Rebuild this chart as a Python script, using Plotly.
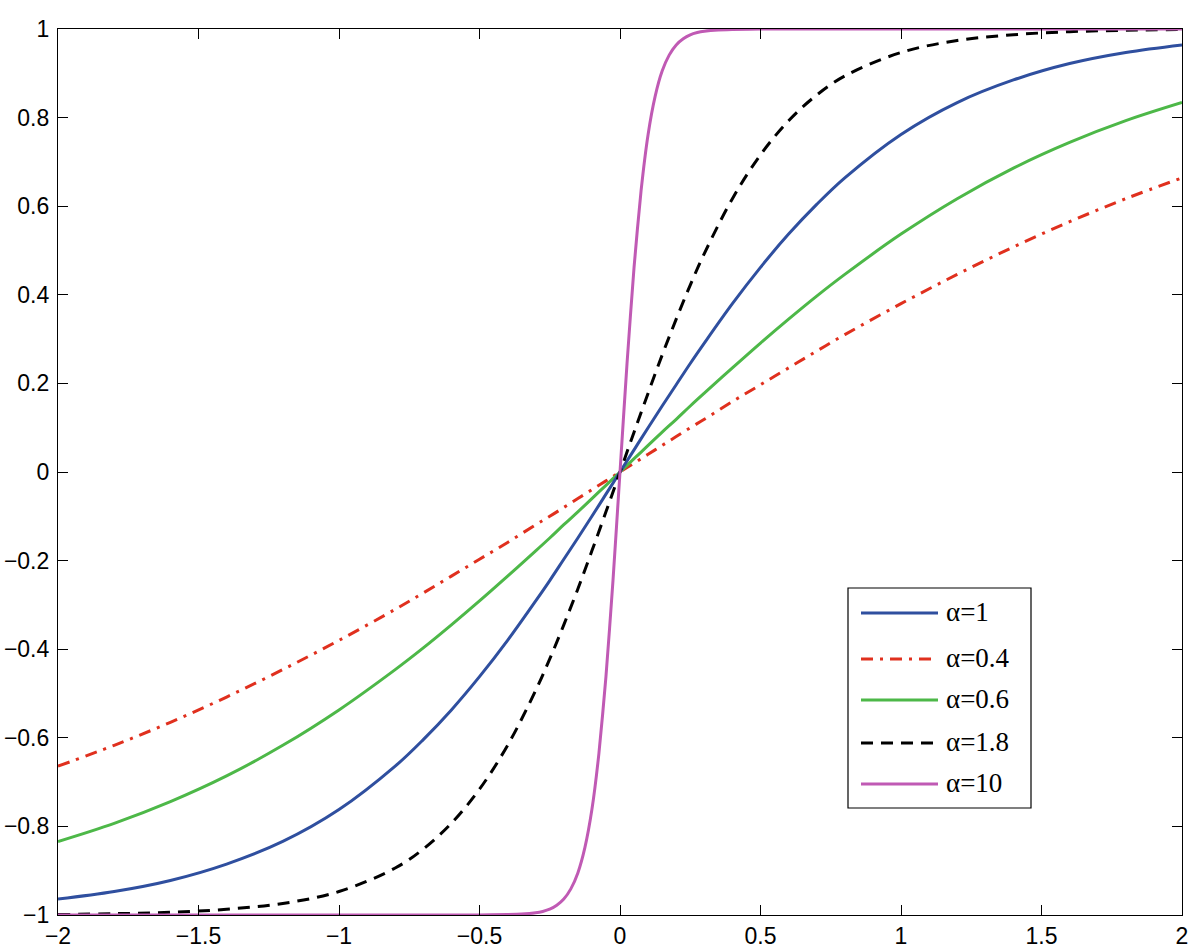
import plotly.graph_objects as go

# x samples (common grid)
x_main = [-2.0, -1.8, -1.6, -1.4, -1.2, -1.0, -0.8, -0.7, -0.6, -0.5, -0.4, -0.3, -0.25, -0.2, -0.15, -0.1, -0.05,
          0.0, 0.05, 0.1, 0.15, 0.2, 0.25, 0.3, 0.4, 0.5, 0.6, 0.7, 0.8, 1.0, 1.2, 1.4, 1.6, 1.8, 2.0]

y_a1 = [-0.964, -0.947, -0.922, -0.885, -0.834, -0.762, -0.664, -0.604, -0.537, -0.462, -0.380, -0.291, -0.245, -0.197, -0.149, -0.100, -0.050,
        0.0, 0.050, 0.100, 0.149, 0.197, 0.245, 0.291, 0.380, 0.462, 0.537, 0.604, 0.664, 0.762, 0.834, 0.885, 0.922, 0.947, 0.964]

y_a04 = [-0.664, -0.617, -0.565, -0.508, -0.446, -0.380, -0.310, -0.273, -0.235, -0.197, -0.159, -0.119, -0.100, -0.080, -0.060, -0.040, -0.020,
         0.0, 0.020, 0.040, 0.060, 0.080, 0.100, 0.119, 0.159, 0.197, 0.235, 0.273, 0.310, 0.380, 0.446, 0.508, 0.565, 0.617, 0.664]

y_a06 = [-0.834, -0.793, -0.744, -0.686, -0.617, -0.537, -0.446, -0.397, -0.345, -0.291, -0.235, -0.178, -0.149, -0.119, -0.090, -0.060, -0.030,
         0.0, 0.030, 0.060, 0.090, 0.119, 0.149, 0.178, 0.235, 0.291, 0.345, 0.397, 0.446, 0.537, 0.617, 0.686, 0.744, 0.793, 0.834]

y_a18 = [-0.999, -0.997, -0.994, -0.987, -0.974, -0.947, -0.894, -0.851, -0.793, -0.716, -0.617, -0.493, -0.422, -0.345, -0.264, -0.178, -0.090,
         0.0, 0.090, 0.178, 0.264, 0.345, 0.422, 0.493, 0.617, 0.716, 0.793, 0.851, 0.894, 0.947, 0.974, 0.987, 0.994, 0.997, 0.999]

# steep curve gets a finer grid
x_a10 = [-2.0, -0.5, -0.4, -0.35, -0.3, -0.275, -0.25, -0.225, -0.2, -0.175, -0.15, -0.125, -0.1, -0.075, -0.05, -0.025,
         0.0, 0.025, 0.05, 0.075, 0.1, 0.125, 0.15, 0.175, 0.2, 0.225, 0.25, 0.275, 0.3, 0.35, 0.4, 0.5, 2.0]
y_a10 = [-1.0, -1.0, -0.999, -0.998, -0.995, -0.992, -0.987, -0.978, -0.964, -0.941, -0.905, -0.848, -0.762, -0.635, -0.462, -0.245,
         0.0, 0.245, 0.462, 0.635, 0.762, 0.848, 0.905, 0.941, 0.964, 0.978, 0.987, 0.992, 0.995, 0.998, 0.999, 1.0, 1.0]

x_ticks = [-2, -1.5, -1, -0.5, 0, 0.5, 1, 1.5, 2]
x_tick_text = ["\u22122", "\u22121.5", "\u22121", "\u22120.5", "0", "0.5", "1", "1.5", "2"]
y_ticks = [-1, -0.8, -0.6, -0.4, -0.2, 0, 0.2, 0.4, 0.6, 0.8, 1]
y_tick_text = ["\u22121", "\u22120.8", "\u22120.6", "\u22120.4", "\u22120.2", "0", "0.2", "0.4", "0.6", "0.8", "1"]

labels = ["\u03b1=1", "\u03b1=0.4", "\u03b1=0.6", "\u03b1=1.8", "\u03b1=10"]
colors = ["#2f4f9f", "#e0301e", "#4db848", "#000000", "#c05ab4"]
dashes = ["solid", "12px,7px,3px,7px", "solid", "12px,8px", "solid"]

series = [(x_main, y_a1), (x_main, y_a04), (x_main, y_a06), (x_main, y_a18), (x_a10, y_a10)]

fig = go.Figure()
# draw order: red, green, blue, black, magenta on top
order = [1, 2, 0, 3, 4]
for i in order:
    xs, ys = series[i]
    fig.add_trace(go.Scatter(
        x=xs, y=ys, mode="lines", name=labels[i], showlegend=False,
        line=dict(color=colors[i], width=3, dash=dashes[i], shape="spline", smoothing=0.6 if i == 4 else 1.0),
    ))

W, H = 1200, 948
L, R, T, B = 58, 18, 29, 33
pw, ph = W - L - R, H - T - B


def px(xp):
    return (xp - L) / pw


def py(yp):
    return (H - B - yp) / ph


# custom legend (positions in pixels -> paper)
shapes = [dict(type="rect", xref="paper", yref="paper", x0=px(848), x1=px(1031), y0=py(808), y1=py(588),
               line=dict(color="black", width=1.2), fillcolor="white", layer="above")]
annotations = []
item_y = [613, 659, 700, 743, 784]
for k in range(5):
    shapes.append(dict(type="line", xref="paper", yref="paper", x0=px(861), x1=px(938), y0=py(item_y[k]), y1=py(item_y[k]),
                       line=dict(color=colors[k], width=3, dash=dashes[k]), layer="above"))
    annotations.append(dict(xref="paper", yref="paper", x=px(944), y=py(item_y[k] - 1), text=labels[k], showarrow=False,
                            xanchor="left", yanchor="middle",
                            font=dict(family="Liberation Serif, Times New Roman, serif", size=27, color="black")))

axis_common = dict(showline=True, linecolor="black", linewidth=1.2, mirror="ticks", ticks="inside", ticklen=10,
                   tickcolor="black", tickwidth=1, showgrid=False, zeroline=False, automargin=False,
                   tickfont=dict(family="Liberation Sans, Arial, sans-serif", size=23, color="black"))

fig.update_layout(
    width=W, height=H,
    margin=dict(l=L, r=R, t=T, b=B),
    paper_bgcolor="white", plot_bgcolor="white",
    xaxis=dict(range=[-2, 2], tickvals=x_ticks, ticktext=x_tick_text, ticklabelstandoff=0, **axis_common),
    yaxis=dict(range=[-1, 1], tickvals=y_ticks, ticktext=y_tick_text, ticklabelstandoff=3, **axis_common),
    shapes=shapes, annotations=annotations, showlegend=False,
)

fig.write_html("out.html", config={"displayModeBar": False},
               post_script="document.body.style.margin='0';document.body.style.overflow='hidden';")
